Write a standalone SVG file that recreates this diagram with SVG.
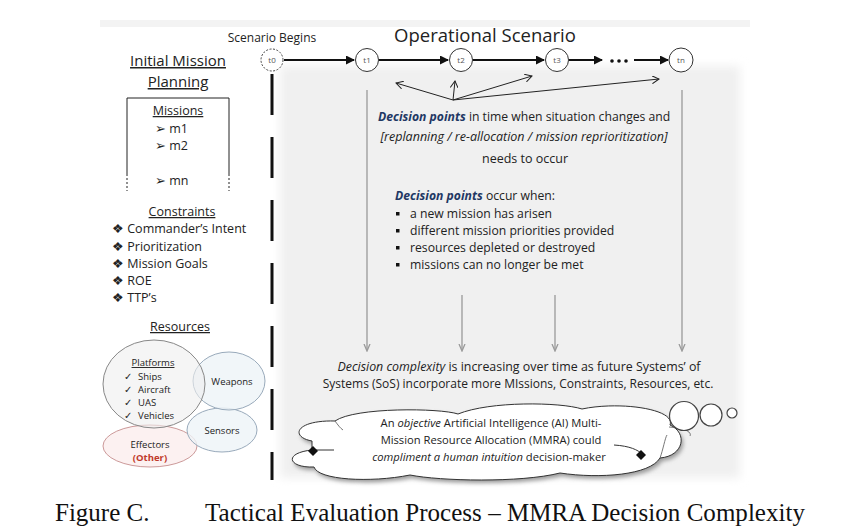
<svg xmlns="http://www.w3.org/2000/svg" width="846" height="532" viewBox="0 0 846 532">
<defs>
<style>
.s{font-family:"Open Sans","Liberation Sans",sans-serif;fill:#222}
.u{text-decoration:underline}
.c{text-anchor:middle}
.dp{font-weight:bold;font-style:italic;fill:#1f3864}
.it{font-style:italic}
.tn{fill:#fff;stroke:#333;stroke-width:1}
.tl{font-family:"Open Sans","Liberation Sans",sans-serif;font-size:8px;fill:#555;text-anchor:middle}
.flow{stroke:#111;stroke-width:2.2;fill:none;marker-end:url(#ah)}
.thin{stroke:#222;stroke-width:1;fill:none;marker-end:url(#oa)}
.gl{stroke:#999;stroke-width:1.3;fill:none;marker-end:url(#ga)}
.cap{font-family:"Liberation Serif","Times New Roman",serif;font-size:25px;fill:#111}
</style>
<marker id="ah" markerWidth="9" markerHeight="9" refX="8" refY="4.5" orient="auto" markerUnits="userSpaceOnUse" viewBox="0 0 9 9"><path d="M0,0 L9,4.5 L0,9 Z" fill="#111"/></marker>
<marker id="oa" markerWidth="8" markerHeight="8" refX="7" refY="4" orient="auto" markerUnits="userSpaceOnUse" viewBox="0 0 8 8"><path d="M0,0 L7,4 L0,8" fill="none" stroke="#222" stroke-width="1"/></marker>
<marker id="ga" markerWidth="8" markerHeight="8" refX="6" refY="4" orient="auto" markerUnits="userSpaceOnUse" viewBox="0 0 8 8"><path d="M0,1 L7,4 L0,7" fill="none" stroke="#999" stroke-width="1.3"/></marker>
<filter id="bl" x="-5%" y="-5%" width="110%" height="110%"><feGaussianBlur stdDeviation="5"/></filter>
<filter id="sh" x="-5%" y="-10%" width="110%" height="130%"><feGaussianBlur stdDeviation="2"/></filter>
</defs>
<rect width="846" height="532" fill="#fff"/>
<rect x="100" y="20" width="650" height="7" fill="#f3f3f3"/>
<!-- gray panel -->
<rect x="280" y="66" width="460" height="412" fill="#f0f0f0" filter="url(#bl)"/>
<g id="connectors">
<line x1="272" y1="74" x2="272" y2="480" stroke="#111" stroke-width="3" stroke-dasharray="41 22"/>
<line x1="284" y1="60" x2="354" y2="60" class="flow"/>
<line x1="379" y1="60" x2="448" y2="60" class="flow"/>
<line x1="473" y1="60" x2="544" y2="60" class="flow"/>
<line x1="569" y1="60" x2="602" y2="60" class="flow"/>
<line x1="634" y1="60" x2="668" y2="60" class="flow"/>
<line x1="453" y1="100" x2="396" y2="83" class="thin"/>
<line x1="453" y1="100" x2="455" y2="81" class="thin"/>
<line x1="453" y1="100" x2="532" y2="76" class="thin"/>
<line x1="453" y1="100" x2="659" y2="79" class="thin"/>
<line x1="367" y1="90" x2="367" y2="350" class="gl"/>
<line x1="462" y1="295" x2="462" y2="350" class="gl"/>
<line x1="555" y1="295" x2="555" y2="350" class="gl"/>
<line x1="682" y1="90" x2="682" y2="350" class="gl"/>
</g>
<g id="dots"><circle cx="612" cy="61" r="1.8" fill="#111"/><circle cx="619" cy="61" r="1.8" fill="#111"/><circle cx="626" cy="61" r="1.8" fill="#111"/></g>
<g id="t0"><circle cx="272" cy="60" r="11" fill="#fff" stroke="#444" stroke-dasharray="2 1.5"/><text x="272" y="63" class="tl">t0</text></g>
<g id="t1"><circle cx="367" cy="60" r="11.5" class="tn"/><text x="367" y="63" class="tl">t1</text></g>
<g id="t2"><circle cx="461" cy="60" r="11.5" class="tn"/><text x="461" y="63" class="tl">t2</text></g>
<g id="t3"><circle cx="557" cy="60" r="11.5" class="tn"/><text x="557" y="63" class="tl">t3</text></g>
<g id="tn"><circle cx="681" cy="60" r="12" class="tn"/><text x="681" y="63" class="tl">tn</text></g>
<text x="272" y="42" class="s c" font-size="12">Scenario Begins</text>
<text x="485" y="42" class="s c" font-size="18.5">Operational Scenario</text>
<!-- left column -->
<g id="planning">
<text x="178" y="66" class="s c u" font-size="15">Initial Mission</text>
<text x="178" y="87" class="s c u" font-size="15">Planning</text>
</g>
<g id="missions">
<path d="M127,174 V98 H229 V174" fill="none" stroke="#222" stroke-width="1"/>
<path d="M127,174 V191 M229,174 V191" fill="none" stroke="#222" stroke-width="1" stroke-dasharray="2 2"/>
<text x="178" y="115" class="s c u" font-size="12.5">Missions</text>
<text x="155" y="133" class="s" font-size="12.5">➢ m1</text>
<text x="155" y="150" class="s" font-size="12.5">➢ m2</text>
<text x="155" y="185" class="s" font-size="12.5">➢ mn</text>
</g>
<g id="constraints">
<text x="182" y="216" class="s c u" font-size="12.5">Constraints</text>
<text x="112" y="233" class="s" font-size="12.5">❖ Commander’s Intent</text>
<text x="112" y="251" class="s" font-size="12.5">❖ Prioritization</text>
<text x="112" y="268" class="s" font-size="12.5">❖ Mission Goals</text>
<text x="112" y="285" class="s" font-size="12.5">❖ ROE</text>
<text x="112" y="302" class="s" font-size="12.5">❖ TTP’s</text>
</g>
<text x="180" y="331" class="s c u" font-size="12.5">Resources</text>
<g id="effectors"><ellipse cx="150" cy="446" rx="47" ry="21" fill="#fbeeee" fill-opacity="0.8" stroke="#c99" stroke-width="1"/>
<text x="150" y="448" class="s c" font-size="9.5">Effectors</text>
<text x="150" y="461" class="s c" font-size="9.5" font-weight="bold" style="fill:#c0392b">(Other)</text></g>
<g id="sensors"><ellipse cx="222" cy="430" rx="35" ry="22" fill="#eef4f8" fill-opacity="0.8" stroke="#9ab" stroke-width="1"/>
<text x="222" y="434" class="s c" font-size="9.5">Sensors</text></g>
<g id="weapons"><ellipse cx="229" cy="381" rx="36" ry="29" fill="#eef4f8" fill-opacity="0.8" stroke="#9ab" stroke-width="1"/>
<text x="232" y="385" class="s c" font-size="9.5">Weapons</text></g>
<g id="platforms"><ellipse cx="154" cy="384" rx="51" ry="44" fill="#eeeeee" fill-opacity="0.6" stroke="#888" stroke-width="1"/>
<text x="153" y="366" class="s c u" font-size="9.5">Platforms</text>
<text x="124" y="380" class="s" font-size="9.5">✓</text><text x="138" y="380" class="s" font-size="9.5">Ships</text>
<text x="124" y="393" class="s" font-size="9.5">✓</text><text x="138" y="393" class="s" font-size="9.5">Aircraft</text>
<text x="124" y="406" class="s" font-size="9.5">✓</text><text x="138" y="406" class="s" font-size="9.5">UAS</text>
<text x="124" y="419" class="s" font-size="9.5">✓</text><text x="138" y="419" class="s" font-size="9.5">Vehicles</text></g>
<!-- decision text -->
<g id="decision-points">
<text x="378" y="121" class="s" font-size="12.2"><tspan class="dp">Decision points</tspan> in time when situation changes and</text>
<text x="524" y="141" class="s c it" font-size="12.5">[replanning / re-allocation / mission reprioritization]</text>
<text x="525" y="163" class="s c" font-size="12.5">needs to occur</text>
</g>
<g id="occur-when">
<text x="395" y="200" class="s" font-size="12.2"><tspan class="dp">Decision points</tspan> occur when:</text>
<rect x="396" y="212" width="3.5" height="3.5" fill="#111"/><text x="410" y="218" class="s" font-size="12.2">a new mission has arisen</text>
<rect x="396" y="229" width="3.5" height="3.5" fill="#111"/><text x="410" y="235" class="s" font-size="12.2">different mission priorities provided</text>
<rect x="396" y="246" width="3.5" height="3.5" fill="#111"/><text x="410" y="252" class="s" font-size="12.2">resources depleted or destroyed</text>
<rect x="396" y="263" width="3.5" height="3.5" fill="#111"/><text x="410" y="269" class="s" font-size="12.2">missions can no longer be met</text>
</g>
<g id="complexity">
<text x="519" y="371" class="s c" font-size="12.4"><tspan class="it">Decision complexity</tspan> is increasing over time as future Systems’ of</text>
<text x="518" y="388" class="s c" font-size="12">Systems (SoS) incorporate more MIssions, Constraints, Resources, etc.</text>
</g>
<!-- cloud -->
<g id="cloud">
<path d="M312,441 C290,437 295,420 335,421 C355,407 440,408 458,414 C490,401 560,402 582,409 C620,401 676,409 670,425 C688,433 684,456 660,458 C650,475 600,479 560,473 C520,483 440,481 410,475 C370,483 318,480 314,467 C288,468 283,453 312,450" fill="#999" transform="translate(2,3)" filter="url(#sh)"/>
<path d="M312,441 C290,437 295,420 335,421 C355,407 440,408 458,414 C490,401 560,402 582,409 C620,401 676,409 670,425 C688,433 684,456 660,458 C650,475 600,479 560,473 C520,483 440,481 410,475 C370,483 318,480 314,467 C288,468 283,453 312,450" fill="#fff" stroke="#333" stroke-width="1"/>
<path d="M312,441 L312,450 L334,450" fill="none" stroke="#333" stroke-width="1"/>
<path d="M335,421 C338,425 340,428 343,430" fill="none" stroke="#555" stroke-width="0.8"/>
<path d="M614,445 C630,446 638,450 642,454" fill="none" stroke="#333" stroke-width="1"/>
<path d="M669,427 C685,428 692,432 690,436 M660,458 C663,450 665,438 667,435" fill="none" stroke="#555" stroke-width="0.8"/>
<path d="M308,451 L313,446 L318,451 L313,456 Z" fill="#111"/>
<path d="M636,455 L641,450 L646,455 L641,460 Z" fill="#111"/>
<text x="491" y="427" class="s c" font-size="11.2">An <tspan class="it">objective</tspan> Artificial Intelligence (AI) Multi-</text>
<text x="491" y="444" class="s c" font-size="11.2">Mission Resource Allocation (MMRA) could</text>
<text x="489" y="461" class="s c" font-size="11.2"><tspan class="it">compliment a human intuition</tspan> decision-maker</text>
</g>
<g id="bubbles">
<circle cx="684" cy="416" r="14.5" fill="#fff" stroke="#444" stroke-width="1.2"/>
<circle cx="711" cy="415" r="11" fill="#fff" stroke="#444" stroke-width="1.2"/>
<circle cx="732" cy="413" r="5" fill="#fff" stroke="#444" stroke-width="1.2"/>
</g>
<g id="caption">
<text x="55" y="521" class="cap">Figure C.</text>
<text x="205" y="521" class="cap" textLength="600" lengthAdjust="spacing">Tactical Evaluation Process – MMRA Decision Complexity</text>
</g>
</svg>
